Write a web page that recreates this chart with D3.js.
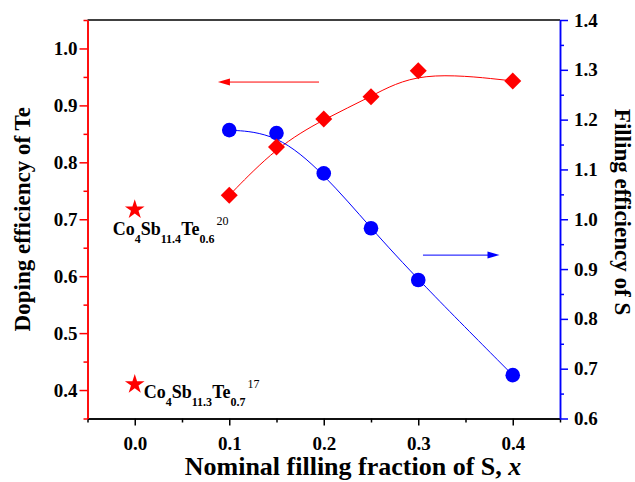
<!DOCTYPE html>
<html>
<head>
<meta charset="utf-8">
<script src="https://cdn.jsdelivr.net/npm/d3@7/dist/d3.min.js"></script>
<style>
body { margin: 0; background: #fff; }
svg text { font-family: "Liberation Serif", "Times New Roman", serif; font-weight: bold; }
</style>
</head>
<body>
<svg id="chart" width="635" height="482"></svg>
<script>
// nominal S filling fraction
var xVals = [0.1, 0.15, 0.2, 0.25, 0.3, 0.4];
// doping efficiency of Te (left axis, red diamonds)
var teEff = [0.742, 0.827, 0.876, 0.915, 0.961, 0.943];
// filling efficiency of S (right axis, blue circles)
var sEff = [1.179, 1.173, 1.092, 0.982, 0.878, 0.687];
// literature points (red stars)
var refX = [0.0, 0.0];
var refY = [0.717, 0.41];
var refLabels = [
  {co: "4", sb: "11.4", te: "0.6", cite: "20"},
  {co: "4", sb: "11.3", te: "0.7", cite: "17"}
];
// tick values
var xMajor = [0.0, 0.1, 0.2, 0.3, 0.4];
var xMinor = [-0.05, 0.05, 0.15, 0.25, 0.35, 0.45];
var yLMajor = [0.4, 0.5, 0.6, 0.7, 0.8, 0.9, 1.0];
var yLMinor = [0.35, 0.45, 0.55, 0.65, 0.75, 0.85, 0.95, 1.05];
var yRMajor = [0.6, 0.7, 0.8, 0.9, 1.0, 1.1, 1.2, 1.3, 1.4];
var yRMinor = [0.65, 0.75, 0.85, 0.95, 1.05, 1.15, 1.25, 1.35];
// arrows pointing to the matching axis [x1, x2, y]
var redArrow = [0.195, 0.088, 0.941];
var blueArrow = [0.305, 0.386, 0.928];

var svg = d3.select("#chart");
// plot box (note: "top" is taken by window.top)
var pLeft = 87.5, pRight = 560, pTop = 20, pBottom = 418.5;

var x = d3.scaleLinear().domain([-0.05, 0.45]).range([pLeft, pRight]);
var yL = d3.scaleLinear().domain([0.35, 1.05]).range([pBottom, pTop]);
var yR = d3.scaleLinear().domain([0.6, 1.4]).range([pBottom, pTop]);

var fmt = d3.format(".1f");

// top frame line
svg.append("line")
  .attr("x1", pLeft).attr("x2", pRight).attr("y1", pTop).attr("y2", pTop)
  .attr("stroke", "#000").attr("stroke-width", 1.3);

function styleAxis(g, color) {
  g.select(".domain").attr("stroke", color).attr("stroke-width", 1.5);
  g.selectAll(".tick line").attr("stroke", color).attr("stroke-width", 1.5);
  g.selectAll(".tick text").attr("fill", "#000")
    .style("font-size", "19px").style("font-family", "Liberation Serif").style("font-weight", "bold");
}

// bottom axis
var gxMin = svg.append("g").attr("transform", "translate(0," + pBottom + ")")
  .call(d3.axisBottom(x).tickValues(xMinor).tickSize(4).tickFormat("").tickSizeOuter(0));
styleAxis(gxMin, "#000");
var gx = svg.append("g").attr("transform", "translate(0," + pBottom + ")")
  .call(d3.axisBottom(x).tickValues(xMajor).tickSize(7).tickPadding(11).tickFormat(fmt).tickSizeOuter(0));
styleAxis(gx, "#000");

// left axis (red)
var glMin = svg.append("g").attr("transform", "translate(" + pLeft + ",0)")
  .call(d3.axisLeft(yL).tickValues(yLMinor).tickSize(4).tickFormat("").tickSizeOuter(0));
styleAxis(glMin, "red");
var gl = svg.append("g").attr("transform", "translate(" + pLeft + ",0)")
  .call(d3.axisLeft(yL).tickValues(yLMajor).tickSize(8).tickPadding(2).tickFormat(fmt).tickSizeOuter(0));
styleAxis(gl, "red");

// right axis (blue)
var grMin = svg.append("g").attr("transform", "translate(" + pRight + ",0)")
  .call(d3.axisRight(yR).tickValues(yRMinor).tickSize(4).tickFormat("").tickSizeOuter(0));
styleAxis(grMin, "blue");
var gr = svg.append("g").attr("transform", "translate(" + pRight + ",0)")
  .call(d3.axisRight(yR).tickValues(yRMajor).tickSize(8).tickPadding(6).tickFormat(fmt).tickSizeOuter(0));
styleAxis(gr, "blue");

// axis titles
svg.append("text")
  .attr("transform", "translate(30," + ((pTop + pBottom) / 2) + ") rotate(-90)")
  .attr("text-anchor", "middle").style("font-size", "23px")
  .text("Doping efficiency of Te");
svg.append("text")
  .attr("transform", "translate(615,212) rotate(90)")
  .attr("text-anchor", "middle").style("font-size", "23px")
  .text("Filling efficiency of S");
var xt = svg.append("text")
  .attr("x", 353).attr("y", 475)
  .attr("text-anchor", "middle").style("font-size", "26px");
xt.append("tspan").text("Nominal filling fraction of S, ");
xt.append("tspan").style("font-style", "italic").text("x");

// curves
var teData = xVals.map(function(v, i) { return [v, teEff[i]]; });
var sData = xVals.map(function(v, i) { return [v, sEff[i]]; });

svg.append("path").datum(teData)
  .attr("fill", "none").attr("stroke", "red").attr("stroke-width", 1)
  .attr("d", d3.line().x(function(d) { return x(d[0]); }).y(function(d) { return yL(d[1]); }).curve(d3.curveBasis));
svg.append("path").datum(sData)
  .attr("fill", "none").attr("stroke", "blue").attr("stroke-width", 1)
  .attr("d", d3.line().x(function(d) { return x(d[0]); }).y(function(d) { return yR(d[1]); }).curve(d3.curveBasis));

// markers
svg.selectAll(".circ").data(sData).enter().append("circle")
  .attr("cx", function(d) { return x(d[0]); })
  .attr("cy", function(d) { return yR(d[1]); })
  .attr("r", 7.3).attr("fill", "blue");

svg.selectAll(".dia").data(teData).enter().append("path")
  .attr("transform", function(d) { return "translate(" + x(d[0]) + "," + yL(d[1]) + ")"; })
  .attr("d", d3.symbol().type(d3.symbolDiamond2).size(185))
  .attr("fill", "red");

svg.selectAll(".star").data(refY).enter().append("path")
  .attr("transform", function(d, i) { return "translate(" + x(refX[i]) + "," + yL(d) + ")"; })
  .attr("d", d3.symbol().type(d3.symbolStar).size(120))
  .attr("fill", "red");

// compound labels
function compound(px, py, lab) {
  var t = svg.append("text").attr("x", px).attr("y", py).style("font-size", "18px");
  t.append("tspan").text("Co");
  t.append("tspan").attr("dy", 8).style("font-size", "12px").text(lab.co);
  t.append("tspan").attr("dy", -8).text("Sb");
  t.append("tspan").attr("dy", 8).style("font-size", "12px").text(lab.sb);
  t.append("tspan").attr("dy", -8).text("Te");
  t.append("tspan").attr("dy", 8).style("font-size", "12px").text(lab.te);
  t.append("tspan").attr("dx", 2).attr("dy", -18).style("font-size", "12px").style("font-weight", "normal").text(lab.cite);
}
compound(x(refX[0]) - 22, yL(refY[0]) + 25, refLabels[0]);
compound(x(refX[1]) + 9, yL(refY[1]) + 14, refLabels[1]);

// arrows
function arrow(a, yScale, color) {
  var x1 = x(a[0]), x2 = x(a[1]), yy = yScale(a[2]);
  var dir = x2 > x1 ? 1 : -1;
  svg.append("line").attr("x1", x1).attr("x2", x2 - dir * 8).attr("y1", yy).attr("y2", yy)
    .attr("stroke", color).attr("stroke-width", 1);
  svg.append("path")
    .attr("d", d3.line()([[x2, yy], [x2 - dir * 12, yy - 3.5], [x2 - dir * 12, yy + 3.5]]) + "Z")
    .attr("fill", color);
}
arrow(redArrow, yL, "red");
arrow(blueArrow, yR, "blue");
</script>
</body>
</html>
